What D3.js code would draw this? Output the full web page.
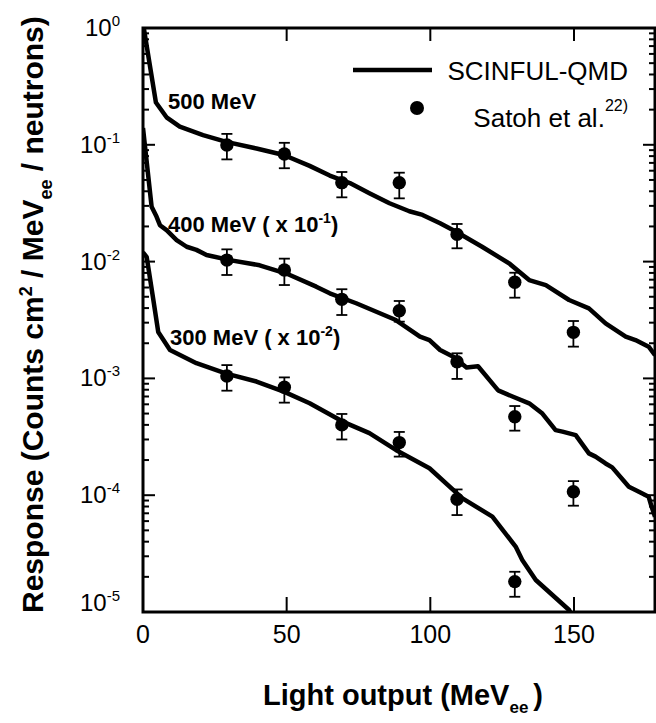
<!DOCTYPE html>
<html>
<head>
<meta charset="utf-8">
<script src="https://cdn.jsdelivr.net/npm/d3@7"></script>
<style>
  body { margin: 0; background: #fff; }
  text { font-family: "Liberation Sans", Arial, sans-serif; fill: #000; }
</style>
</head>
<body>
<svg id="chart" width="656" height="723"></svg>
<script>
// measured points (Satoh et al.), light output in MeVee
const expX = [29.2, 49.2, 69.2, 89.2, 109.3, 129.4, 149.8];

const exp500 = [0.0996, 0.0834, 0.0474, 0.0474, 0.0171, 0.00665, 0.00248];
const exp500Lo = [0.075, 0.063, 0.0355, 0.0348, 0.013, 0.00491, 0.00187];
const exp500Hi = [0.124, 0.104, 0.0585, 0.0577, 0.021, 0.00803, 0.0031];

const exp400 = [0.0103, 0.00848, 0.00475, 0.0038, 0.00139, 0.00047, 0.000107];
const exp400Lo = [0.00768, 0.0063, 0.00349, 0.00306, 0.00099, 0.000357, 0.0000813];
const exp400Hi = [0.01273, 0.0106, 0.0058, 0.0046, 0.00164, 0.00058, 0.000132];

const exp300 = [0.00105, 0.00084, 0.0004, 0.000282, 0.0000922, 0.0000182];
const exp300Lo = [0.000785, 0.00062, 0.0003, 0.000214, 0.0000676, 0.0000135];
const exp300Hi = [0.0013, 0.00102, 0.000496, 0.000348, 0.000112, 0.0000221];

// SCINFUL-QMD calculation
const calc500X = [0, 4.5, 8.2, 12.8, 20.9, 29, 39.5, 49, 58, 65, 72, 78.8, 85.8, 92.7,
  97.3, 103.4, 109, 118, 127.4, 134.4, 140.2, 148.3, 155.2, 161, 168, 171.4, 176, 178.2];
const calc500 = [1.1, 0.23, 0.172, 0.143, 0.121, 0.106, 0.093, 0.0818, 0.066, 0.0545, 0.047,
  0.0385, 0.0316, 0.027, 0.0251, 0.0213, 0.018, 0.0134, 0.00966, 0.00695, 0.0063, 0.00469,
  0.00398, 0.00296, 0.00228, 0.00213, 0.00187, 0.00158];

const calc400X = [0, 3, 4.7, 5.9, 8.2, 11.7, 15.2, 18.6, 22.1, 30.2, 40.6, 49.9, 60.3, 65,
  74.2, 88, 96.4, 99.7, 103.4, 108, 112.6, 116.6, 123.6, 128.6, 134.4, 139, 143.6, 146,
  150.6, 155.2, 157.5, 161, 163.3, 169.1, 172.6, 176, 177, 178.2];
const calc400 = [0.139, 0.0295, 0.0243, 0.0205, 0.0186, 0.0153, 0.0134, 0.0126, 0.0114,
  0.0103, 0.0093, 0.0079, 0.0061, 0.00535, 0.0044, 0.00316, 0.00228, 0.00213, 0.00175,
  0.00153, 0.00124, 0.00127, 0.00079, 0.0007, 0.000612, 0.0005, 0.000361, 0.00035,
  0.000327, 0.000228, 0.000214, 0.000187, 0.000173, 0.000118, 0.000107, 0.000097,
  0.00008, 0.0000655];

const calc300X = [0, 1.3, 3.6, 5.3, 9.4, 18.6, 29, 39.5, 49, 58, 69.5, 78.8, 88, 99.7,
  111.2, 121.6, 129.7, 132, 136.7, 148.3, 152];
const calc300 = [0.012, 0.0109, 0.0047, 0.0025, 0.00175, 0.00135, 0.0011, 0.00094, 0.00077,
  0.000612, 0.000427, 0.00034, 0.000244, 0.00017, 0.000094, 0.0000655, 0.0000363,
  0.0000279, 0.0000188, 0.0000104, 0.000007];

const xTicks = [0, 50, 100, 150];
const yExps = [0, -1, -2, -3, -4, -5];

const curveLabels = [
  { text: '500 MeV', sup: '', x: 168, y: 109 },
  { text: '400 MeV ( x 10', sup: '-1', x: 168, y: 232 },
  { text: '300 MeV ( x 10', sup: '-2', x: 170, y: 345 },
];

const plotLeft = 143, plotRight = 655, plotTop = 28, plotBottom = 612;

const svg = d3.select('#chart');
const x = d3.scaleLinear().domain([0, 178.2]).range([plotLeft, plotRight]);
const y = d3.scaleLog().domain([1e-5, 1]).range([plotBottom, plotTop]);

const majorY = yExps.map(e => Math.pow(10, e));
const minorY = [];
for (let e = -5; e < 0; e++) {
  for (let m = 2; m <= 9; m++) minorY.push(m * Math.pow(10, e));
}

svg.append('clipPath').attr('id', 'plot-clip')
  .append('rect')
  .attr('x', plotLeft).attr('y', plotTop)
  .attr('width', plotRight - plotLeft).attr('height', plotBottom - plotTop);

// ticks, all pointing into the plot
const ticks = svg.append('g').attr('stroke', '#000').attr('stroke-width', 2);
ticks.selectAll('.yl').data(minorY.concat(majorY)).join('line')
  .attr('x1', plotLeft).attr('x2', d => plotLeft + (majorY.includes(d) ? 12 : 6))
  .attr('y1', d => y(d)).attr('y2', d => y(d));
ticks.selectAll('.yr').data(minorY.concat(majorY)).join('line')
  .attr('x1', plotRight).attr('x2', d => plotRight - (majorY.includes(d) ? 12 : 6))
  .attr('y1', d => y(d)).attr('y2', d => y(d));
ticks.selectAll('.xb').data(xTicks.slice(1)).join('line')
  .attr('x1', d => x(d)).attr('x2', d => x(d))
  .attr('y1', plotBottom).attr('y2', plotBottom - 15);
ticks.selectAll('.xt').data(xTicks.slice(1)).join('line')
  .attr('x1', d => x(d)).attr('x2', d => x(d))
  .attr('y1', plotTop).attr('y2', plotTop + 13);

// frame
svg.append('rect')
  .attr('x', x.range()[0]).attr('y', y.range()[1])
  .attr('width', x.range()[1] - x.range()[0])
  .attr('height', y.range()[0] - y.range()[1])
  .attr('fill', 'none').attr('stroke', '#000').attr('stroke-width', 3);

// y tick labels 10^n
yExps.forEach((e, i) => {
  const last = i === yExps.length - 1;
  const t = svg.append('text')
    .attr('x', 120)
    .attr('y', y(Math.pow(10, e)) + (last ? -1 : 8))
    .attr('text-anchor', 'end')
    .style('font-size', '24px');
  t.append('tspan').text('10');
  t.append('tspan').attr('dy', -10).style('font-size', '15px').text(e);
});

// x tick labels
svg.append('g').selectAll('text').data(xTicks).join('text')
  .attr('x', d => x(d)).attr('y', plotBottom + 31)
  .attr('text-anchor', 'middle')
  .style('font-size', '25px')
  .text(d => d);

// calculation curves
const line = d3.line().x(d => x(d[0])).y(d => y(d[1]));
const plot = svg.append('g').attr('clip-path', 'url(#plot-clip)');
[[calc500X, calc500], [calc400X, calc400], [calc300X, calc300]].forEach(([xs, vs]) => {
  plot.append('path')
    .datum(xs.map((v, i) => [v, vs[i]]))
    .attr('d', line)
    .attr('fill', 'none')
    .attr('stroke', '#000')
    .attr('stroke-width', 4.5)
    .attr('stroke-linejoin', 'round');
});

// experimental points with error bars
const sets = [
  [exp500, exp500Lo, exp500Hi],
  [exp400, exp400Lo, exp400Hi],
  [exp300, exp300Lo, exp300Hi],
];
sets.forEach(([vals, lo, hi]) => {
  const pts = vals.map((v, i) => ({ x: expX[i], v, lo: lo[i], hi: hi[i] }));
  const g = svg.append('g').attr('stroke', '#000').attr('stroke-width', 1.8);
  g.selectAll('.bar').data(pts).join('line')
    .attr('x1', d => x(d.x)).attr('x2', d => x(d.x))
    .attr('y1', d => y(d.lo)).attr('y2', d => y(d.hi));
  g.selectAll('.capLo').data(pts).join('line')
    .attr('x1', d => x(d.x) - 5.5).attr('x2', d => x(d.x) + 5.5)
    .attr('y1', d => y(d.lo)).attr('y2', d => y(d.lo));
  g.selectAll('.capHi').data(pts).join('line')
    .attr('x1', d => x(d.x) - 5.5).attr('x2', d => x(d.x) + 5.5)
    .attr('y1', d => y(d.hi)).attr('y2', d => y(d.hi));
  svg.append('g').selectAll('circle').data(pts).join('circle')
    .attr('cx', d => x(d.x)).attr('cy', d => y(d.v))
    .attr('r', 6.7).attr('fill', '#000');
});

// curve labels
curveLabels.forEach(l => {
  const t = svg.append('text').attr('x', l.x).attr('y', l.y)
    .style('font-size', '22px').style('font-weight', 'bold');
  t.append('tspan').text(l.text);
  if (l.sup) {
    t.append('tspan').attr('dy', -9).style('font-size', '14px').text(l.sup);
    t.append('tspan').attr('dy', 9).text(')');
  }
});

// legend
svg.append('line')
  .attr('x1', 353).attr('x2', 432).attr('y1', 70).attr('y2', 70)
  .attr('stroke', '#000').attr('stroke-width', 4.5);
svg.append('text').attr('x', 628).attr('y', 80)
  .attr('text-anchor', 'end').style('font-size', '26px')
  .text('SCINFUL-QMD');
svg.append('circle').attr('cx', 417).attr('cy', 108).attr('r', 7).attr('fill', '#000');
const sat = svg.append('text').attr('x', 628).attr('y', 127)
  .attr('text-anchor', 'end').style('font-size', '26px');
sat.append('tspan').text('Satoh et al.');
sat.append('tspan').attr('dy', -16).style('font-size', '16px').text('22)');

// axis titles
const xt = svg.append('text').attr('x', 263).attr('y', 705)
  .style('font-size', '29px').style('font-weight', 'bold');
xt.append('tspan').text('Light output (MeV');
xt.append('tspan').attr('dy', 8).style('font-size', '17px').text('ee');
xt.append('tspan').attr('dy', -8).attr('dx', 5).text(')');

const yt = svg.append('text')
  .attr('transform', 'translate(43,613) rotate(-90)')
  .style('font-size', '30px').style('font-weight', 'bold');
yt.append('tspan').text('Response (Counts cm');
yt.append('tspan').attr('dy', -11).style('font-size', '18px').text('2');
yt.append('tspan').attr('dy', 11).text(' / MeV');
yt.append('tspan').attr('dy', 9).style('font-size', '18px').text('ee');
yt.append('tspan').attr('dy', -9).text('  / neutrons)');
</script>
</body>
</html>
